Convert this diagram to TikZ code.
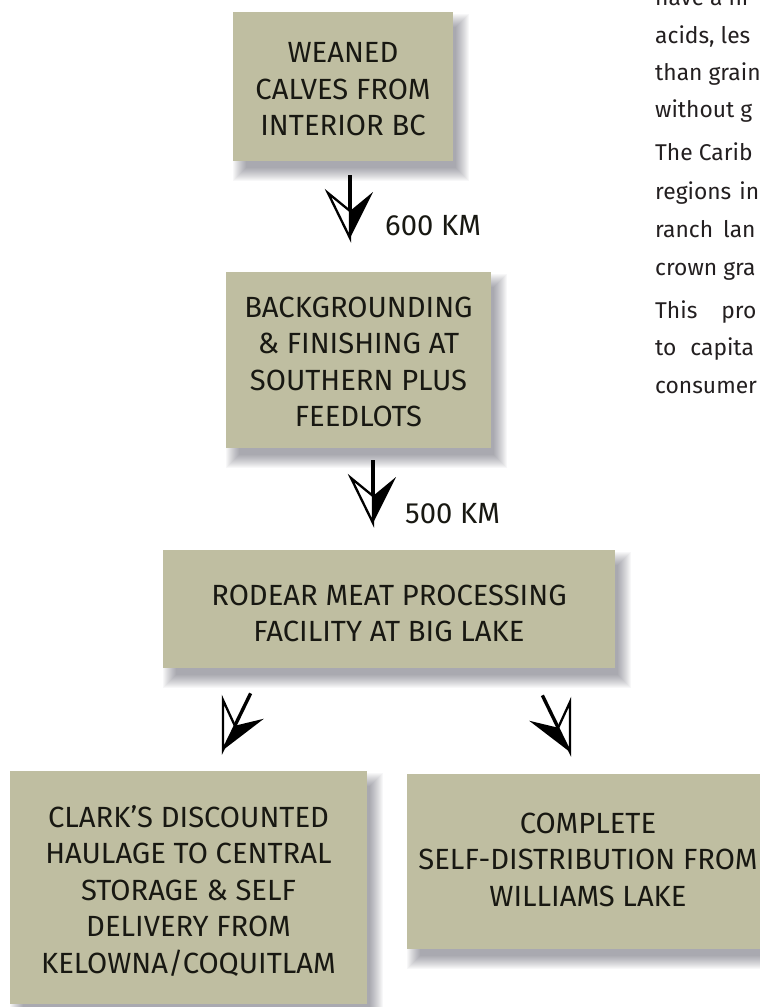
\documentclass[tikz,border=0pt]{standalone}
\usepackage{fontspec}
\setmainfont{Fira Sans}
\usetikzlibrary{calc,backgrounds}
\definecolor{boxfill}{RGB}{191,190,161}
\definecolor{ink}{RGB}{24,24,18}
\definecolor{bodyink}{RGB}{35,31,32}
\definecolor{shadowink}{RGB}{50,50,70}
\tikzset{
  stagebox/.style={fill=boxfill, draw=none, inner sep=0pt},
  stagelabel/.style={inner sep=0pt, text=ink, align=center, font=\fontsize{29.2}{36.5}\selectfont},
  shadowlayer/.style={fill=shadowink, opacity=0.034},
  bodyline/.style={anchor=base west, inner sep=0pt, text=bodyink, font=\fontsize{22.8}{37}\selectfont},
  kmlabel/.style={anchor=base west, inner sep=0pt, text=ink, font=\fontsize{29.2}{30}\selectfont},
  pics/fletch/.style={code={
    \draw[line width=3.4pt] (0,-63) -- (0,-27);
    \fill[black] (0,0) -- (23,-46) -- (0,-27) -- cycle;
    \filldraw[fill=white, draw=black, line width=2.3pt, line join=miter, miter limit=20]
      (0,-27) -- (-22,-45) -- (0,0) -- cycle;
  }}
}
\begin{document}
\begin{tikzpicture}[x=1pt, y=-1pt]
\useasboundingbox (0,0) rectangle (760,1007);
\clip (0,0) rectangle (760,1007);

% stage boxes
\node[stagebox, minimum width=220pt, minimum height=149pt] (calves) at (343,86.5) {};
\node[stagebox, minimum width=265pt, minimum height=176pt] (feedlot) at (358.5,360) {};
\node[stagebox, minimum width=452pt, minimum height=118pt] (rodear) at (389,609) {};
\node[stagebox, minimum width=357pt, minimum height=233pt] (clark) at (188.5,887.5) {};
\node[stagebox, minimum width=362pt, minimum height=175pt] (selfdist) at (588,861.5) {};

\node[stagelabel] (calvesText) at ($(calves.center)+(0,3)$)
  {WEANED\\CALVES FROM\\INTERIOR BC};
\node[stagelabel] (feedlotText) at ($(feedlot.center)+(0,2)$)
  {BACKGROUNDING\\\& FINISHING AT\\SOUTHERN PLUS\\FEEDLOTS};
\node[stagelabel] (rodearText) at ($(rodear.center)+(0,4.5)$)
  {RODEAR MEAT PROCESSING\\FACILITY AT BIG LAKE};
\node[stagelabel] (clarkText) at ($(clark.center)+(0,3.5)$)
  {CLARK’S DISCOUNTED\\HAULAGE TO CENTRAL\\STORAGE \& SELF\\DELIVERY FROM\\KELOWNA/COQUITLAM};
\node[stagelabel] (selfdistText) at ($(selfdist.center)+(0,-2)$)
  {COMPLETE\\SELF-DISTRIBUTION FROM\\WILLIAMS LAKE};

% soft drop shadows, offset down and to the right
\begin{scope}[on background layer]
  \fill[white] (0,0) rectangle (760,1007);
  \foreach \b in {calves,feedlot,rodear,clark,selfdist}{
    \foreach \r in {1,...,14}{
      \fill[shadowlayer] ($(\b.north west)+(14-\r,16-\r)$) rectangle ($(\b.south east)+(2+\r,6+\r)$);
    }
  }
\end{scope}

% arrows
\coordinate (tipA) at (350,238);
\coordinate (tipB) at (373,523);
\coordinate (tipC) at (223,750);
\coordinate (tipD) at (570,752);
\pic at (tipA) {fletch};
\pic at (tipB) {fletch};
\pic[rotate=-26] at (tipC) {fletch};
\pic[rotate=26, xscale=-1] at (tipD) {fletch};

\node[kmlabel] (km600) at (385,235) {600 KM};
\node[kmlabel] (km500) at (405,523) {500 KM};

% body text on the right (cut off at the edge)
\node[bodyline] (t1) at (655,5) {have\hspace{6pt}a\hspace{6pt}hi};
\node[bodyline] (t2) at (655,43) {acids, les};
\node[bodyline] (t3) at (655,80) {than grain};
\node[bodyline] (t4) at (655,117) {without g};
\node[bodyline] (t5) at (655,160) {The Carib};
\node[bodyline] (t6) at (655,199) {regions\hspace{8pt}in};
\node[bodyline] (t7) at (655,237) {ranch\hspace{10pt}lan};
\node[bodyline] (t8) at (655,275) {crown gra};
\node[bodyline] (t9) at (655,318) {This\hspace{24pt}pro};
\node[bodyline] (t10) at (655,355) {to\hspace{14pt}capita};
\node[bodyline] (t11) at (655,393) {consumer};
\end{tikzpicture}
\end{document}
